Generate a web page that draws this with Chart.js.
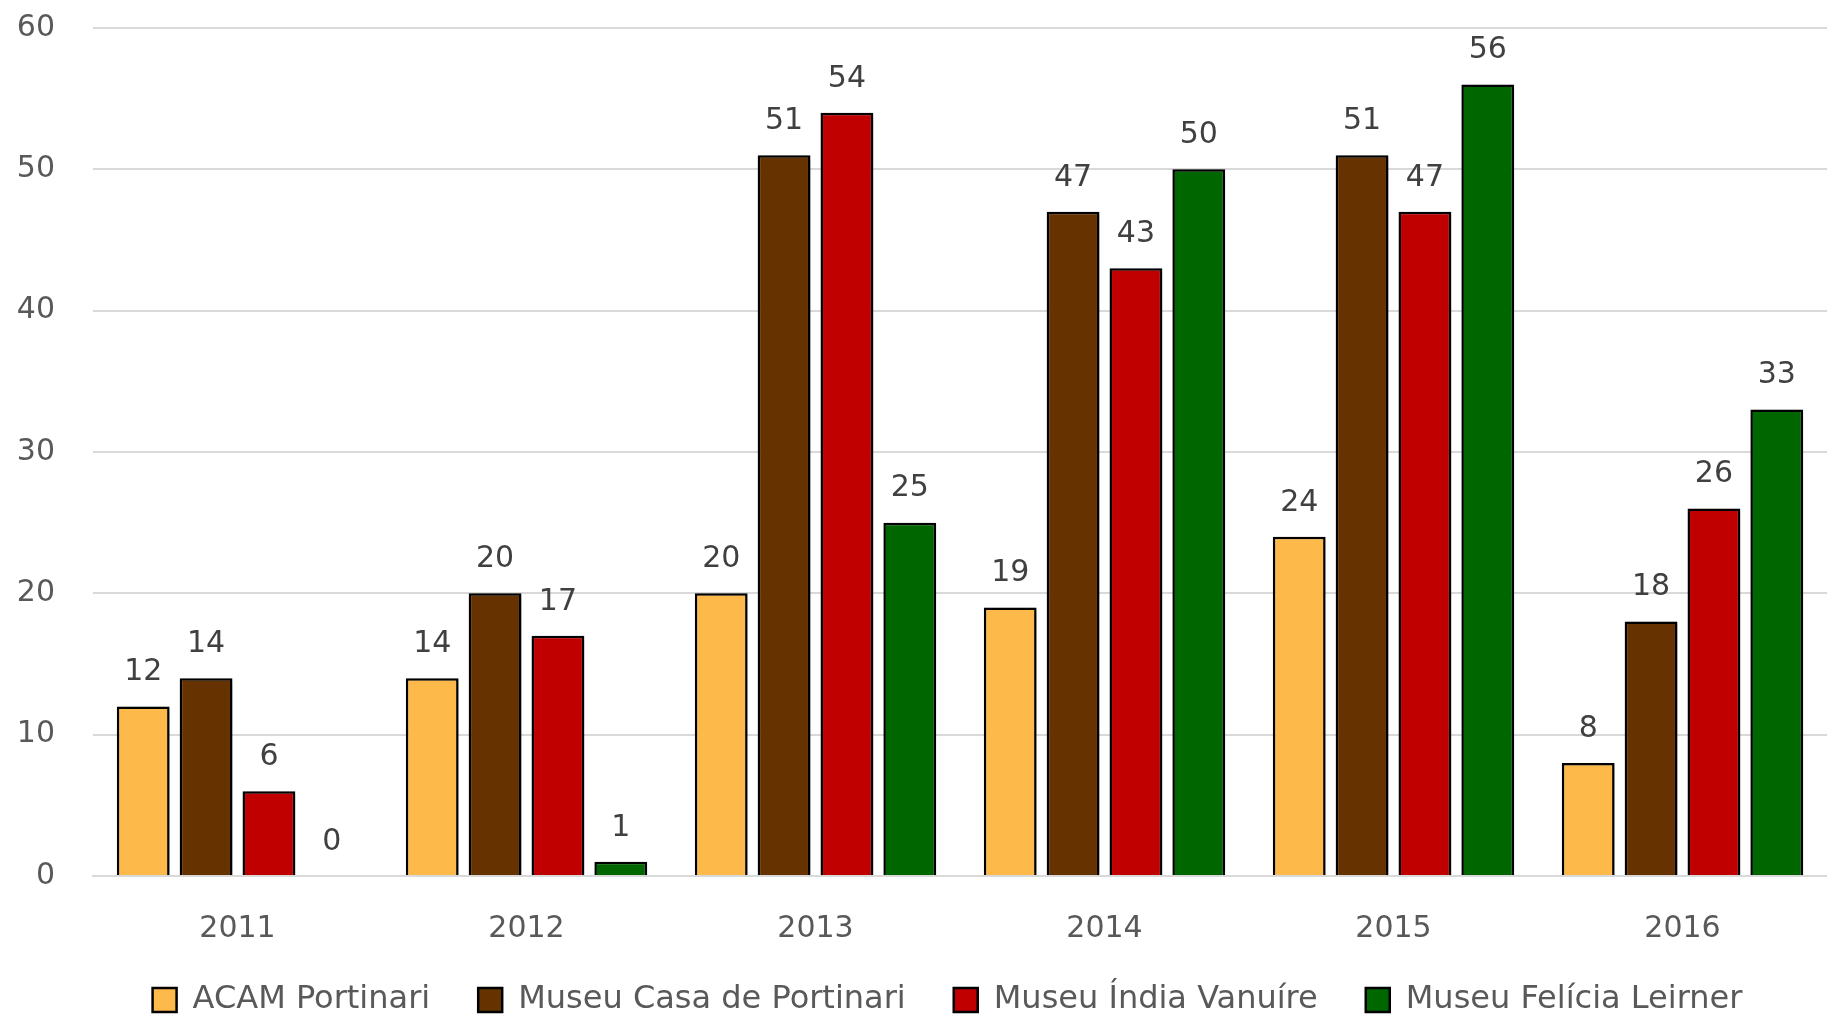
<!DOCTYPE html>
<html>
<head>
<meta charset="utf-8">
<script src="https://cdn.jsdelivr.net/npm/chart.js@4/dist/chart.umd.min.js"></script>
<style>
  html, body { margin: 0; padding: 0; background: #fff; }
  #wrap { width: 1827px; height: 1016px; }
</style>
</head>
<body>
<div id="wrap"><canvas id="chart"></canvas></div>
<script>
// Data
const years = ['2011', '2012', '2013', '2014', '2015', '2016'];
const acamPortinari = [12, 14, 20, 19, 24, 8];
const casaPortinari = [14, 20, 51, 47, 51, 18];
const indiaVanuire = [6, 17, 54, 43, 47, 26];
const feliciaLeirner = [0, 1, 25, 50, 56, 33];
const yTicks = [0, 10, 20, 30, 40, 50, 60];

const FONT = 'DejaVu Sans';

// Draws the value above each bar
const valueLabels = {
  id: 'valueLabels',
  afterDatasetsDraw(chart) {
    const { ctx } = chart;
    ctx.save();
    ctx.font = `30px "${FONT}"`;
    ctx.fillStyle = '#404040';
    ctx.textAlign = 'center';
    ctx.textBaseline = 'middle';
    chart.data.datasets.forEach((ds, i) => {
      chart.getDatasetMeta(i).data.forEach((bar, j) => {
        ctx.fillText(String(ds.data[j]), bar.x, bar.y - 34);
      });
    });
    ctx.restore();
  },
};

// Soft shadow behind the bars
const barShadow = {
  id: 'barShadow',
  beforeDatasetDraw(chart) {
    const { ctx } = chart;
    ctx.save();
    ctx.shadowColor = 'rgba(0,0,0,0.35)';
    ctx.shadowBlur = 5;
    ctx.shadowOffsetX = 2;
    ctx.shadowOffsetY = 2;
  },
  afterDatasetDraw(chart) {
    chart.ctx.restore();
  },
};

// Legend padding is wanted between items only, so shrink its box
// and nudge the row to where the reference has it (drawn without clipping)
const legendPlace = {
  id: 'legendPlace',
  beforeInit(chart) {
    const legend = chart.legend;
    if (!legend) return;
    const fit = legend.fit;
    legend.fit = function () {
      fit.call(this);
      this.height = 70;
    };
    legend.draw = function () {
      if (!this.options.display) return;
      this.ctx.save();
      this.ctx.translate(34, -10);
      this._draw();
      this.ctx.restore();
    };
  },
};

function makeSet(label, data, color) {
  return {
    label,
    data,
    backgroundColor: color,
    borderColor: '#000',
    borderWidth: (c) => (c.raw === 0 ? 0 : 2.5),
    borderSkipped: 'start',
    categoryPercentage: 0.87,
    barPercentage: 0.84,
  };
}

new Chart(document.getElementById('chart').getContext('2d'), {
  type: 'bar',
  data: {
    labels: years,
    datasets: [
      makeSet('ACAM Portinari', acamPortinari, '#FDBA4A'),
      makeSet('Museu Casa de Portinari', casaPortinari, '#663300'),
      makeSet('Museu Índia Vanuíre', indiaVanuire, '#C00000'),
      makeSet('Museu Felícia Leirner', feliciaLeirner, '#006600'),
    ],
  },
  options: {
    responsive: true,
    maintainAspectRatio: false,
    animation: false,
    layout: {
      padding: { left: 0, right: 0, top: 28, bottom: 0 },
    },
    plugins: {
      tooltip: { enabled: false },
      legend: {
        position: 'bottom',
        labels: {
          font: { family: FONT, size: 32 },
          color: '#595959',
          boxWidth: 24,
          boxHeight: 24,
          padding: 48,
          generateLabels(chart) {
            return chart.data.datasets.map((ds, i) => ({
              text: ds.label,
              fillStyle: ds.backgroundColor,
              strokeStyle: '#000',
              lineWidth: 2.5,
              fontColor: '#595959',
              datasetIndex: i,
            }));
          },
        },
      },
    },
    scales: {
      x: {
        grid: { display: false },
        border: { display: true, color: '#d9d9d9', width: 2 },
        ticks: {
          font: { family: FONT, size: 30 },
          color: '#595959',
          padding: 27,
        },
        afterFit(axis) {
          axis.height = 70;
          axis.paddingLeft = 0;
          axis.paddingRight = 0;
        },
      },
      y: {
        min: 0,
        max: 60,
        afterBuildTicks(axis) {
          axis.ticks = yTicks.map((v) => ({ value: v }));
        },
        grid: { color: '#d9d9d9', lineWidth: 2, drawTicks: false },
        border: { display: false },
        ticks: {
          font: { family: FONT, size: 30 },
          color: '#595959',
          padding: 38,
        },
        afterFit(axis) {
          axis.width = 93;
          axis.paddingTop = 0;
          axis.paddingBottom = 0;
        },
      },
    },
  },
  plugins: [valueLabels, barShadow, legendPlace],
});
</script>
</body>
</html>
